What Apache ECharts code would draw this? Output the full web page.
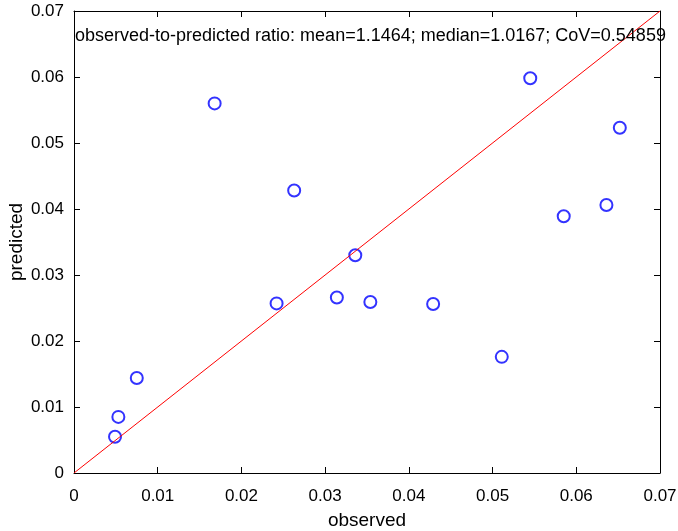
<!DOCTYPE html>
<html><head><meta charset="utf-8">
<script src="https://cdn.jsdelivr.net/npm/echarts@6/dist/echarts.min.js"></script>
<style>html,body{margin:0;padding:0;background:#fff}#c{width:678px;height:531px}</style>
</head><body><div id="c"></div>
<script>
const observed = [0.0168, 0.0263, 0.0336, 0.0242, 0.0314, 0.0354, 0.0429, 0.0545, 0.0652, 0.0636, 0.0585, 0.0511, 0.0075, 0.0053, 0.0049];
const predicted = [0.0560, 0.0428, 0.0330, 0.0257, 0.0266, 0.0259, 0.0256, 0.0598, 0.0523, 0.0406, 0.0389, 0.0176, 0.0144, 0.0085, 0.0055];
const identityLine = [[0, 0], [0.07, 0.07]];
const annotation = 'observed-to-predicted ratio: mean=1.1464; median=1.0167; CoV=0.54859';
const xLabel = 'observed', yLabel = 'predicted';

const font = 'Liberation Sans, Arial, Helvetica, sans-serif';
const chart = echarts.init(document.getElementById('c'), null, {renderer: 'canvas'});
const fmt = v => v === 0 ? '0' : v.toFixed(2);
const baseAxis = {
  type: 'value', min: 0, max: 0.07, interval: 0.01,
  axisLine: {show: true, onZero: false, lineStyle: {color: '#000', width: 1}},
  axisTick: {show: true, inside: true, length: 6, lineStyle: {color: '#000'}},
  splitLine: {show: false},
  axisLabel: {color: '#000', fontFamily: font, fontSize: 17, formatter: fmt},
  nameTextStyle: {color: '#000', fontFamily: font, fontSize: 19}
};
chart.setOption({
  animation: false,
  grid: {left: 74, right: 18, top: 11, bottom: 58, containLabel: false, outerBoundsMode: 'none'},
  xAxis: [
    Object.assign({}, baseAxis, {position: 'bottom', name: xLabel, nameLocation: 'middle', nameGap: 38,
      axisLabel: Object.assign({}, baseAxis.axisLabel, {margin: 15})}),
    Object.assign({}, baseAxis, {position: 'top', axisLabel: {show: false}})
  ],
  yAxis: [
    Object.assign({}, baseAxis, {position: 'left', name: yLabel, nameLocation: 'middle', nameGap: 48, nameMoveOverlap: false,
      axisLabel: Object.assign({}, baseAxis.axisLabel, {margin: 10})}),
    Object.assign({}, baseAxis, {position: 'right', axisLabel: {show: false}})
  ],
  graphic: [{type: 'text', left: 75, top: 27, style: {text: annotation, font: '18px ' + font, fill: '#000'}, z: 10}],
  series: [
    {type: 'line', data: identityLine, symbol: 'none', lineStyle: {color: '#ff0000', width: 1}, silent: true},
    {type: 'scatter', data: observed.map((x, i) => [x, predicted[i]]), symbol: 'circle', symbolSize: 12,
      itemStyle: {color: 'rgba(0,0,0,0)', borderColor: '#0000ff', borderWidth: 2}}
  ]
});
</script></body></html>
